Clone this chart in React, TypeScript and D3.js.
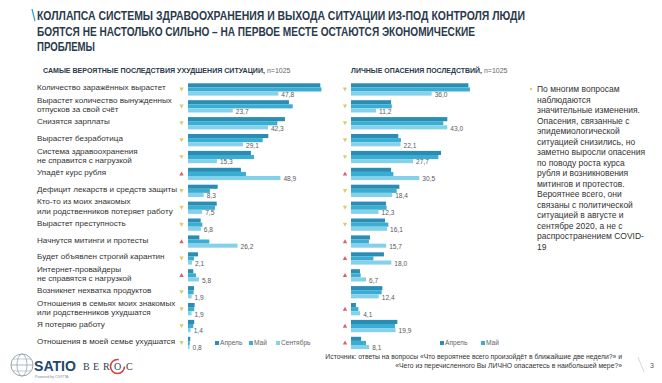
import React from "react";
import * as d3 from "d3";

const categories: string[][] = [
  ["Количество заражённых вырастет"],
  ["Вырастет количество вынужденных", "отпусков за свой счёт"],
  ["Снизятся зарплаты"],
  ["Вырастет безработица"],
  ["Система здравоохранения", "не справится с нагрузкой"],
  ["Упадёт курс рубля"],
  ["Дефицит лекарств и средств защиты"],
  ["Кто-то из моих знакомых", "или родственников потеряет работу"],
  ["Вырастет преступность"],
  ["Начнутся митинги и протесты"],
  ["Будет объявлен строгий карантин"],
  ["Интернет-провайдеры", "не справятся с нагрузкой"],
  ["Возникнет нехватка продуктов"],
  ["Отношения в семьях моих знакомых", "или родственников ухудшатся"],
  ["Я потеряю работу"],
  ["Отношения в моей семье ухудшатся"],
];

const leftApril = [70.0, 53.4, 51.3, 42.5, 33.3, 28.0, 15.7, 15.2, 6.7, 6.0, 5.3, 2.8, 3.2, 3.5, 3.3, 1.2];
const leftMay = [70.6, 55.4, 47.3, 39.5, 34.9, 30.7, 11.6, 14.3, 7.6, 11.3, 3.2, 4.2, 3.0, 3.3, 2.8, 0.9];
const leftSept = [47.8, 23.7, 42.3, 29.1, 15.3, 48.9, 8.3, 7.5, 6.8, 26.2, 2.1, 5.8, 1.9, 1.9, 1.4, 0.8];

const rightApril = [52.4, 17.9, 43.0, 21.1, 40.2, 17.9, 21.6, 15.6, 15.2, 8.5, 14.7, 4.0, 14.0, 2.2, 20.7, 4.5];
const rightMay = [53.1, 18.2, 41.2, 22.3, 39.0, 18.9, 20.4, 15.9, 16.7, 8.0, 10.0, 4.3, 13.7, 3.3, 19.6, 6.7];
const rightSept = [36.0, 11.2, 43.0, 22.1, 27.7, 30.5, 18.4, 12.3, 16.1, 15.7, 18.0, 6.7, 12.4, 4.1, 19.9, 8.1];

const leftTrend = ["d", "d", "d", "d", "d", "u", "d", "d", "d", "u", "d", "u", "d", "d", "d", "d"];
const rightTrend = ["d", "d", "d", "d", "d", "u", "d", "d", "d", "u", "u", "u", "", "u", "u", "u"];

const leftLegend = ["Апрель", "Май", "Сентябрь"];
const rightLegend = ["Апрель", "Май"];

const titleLines = [
  "КОЛЛАПСА СИСТЕМЫ ЗДРАВООХРАНЕНИЯ И ВЫХОДА СИТУАЦИИ ИЗ-ПОД КОНТРОЛЯ ЛЮДИ",
  "БОЯТСЯ НЕ НАСТОЛЬКО СИЛЬНО – НА ПЕРВОЕ МЕСТЕ ОСТАЮТСЯ ЭКОНОМИЧЕСКИЕ",
  "ПРОБЛЕМЫ",
];

const noteLines = [
  "По многим вопросам",
  "наблюдаются",
  "значительные изменения.",
  "Опасения, связанные с",
  "эпидемиологической",
  "ситуацией снизились, но",
  "заметно выросли опасения",
  "по поводу роста курса",
  "рубля и возникновения",
  "митингов и протестов.",
  "Вероятнее всего, они",
  "связаны с политической",
  "ситуацией в августе и",
  "сентябре 2020, а не с",
  "распространением COVID-",
  "19",
];

const footerLines = [
  "Источник: ответы на вопросы «Что вероятнее всего произойдёт в ближайшие две недели?» и",
  "«Чего из перечисленного Вы ЛИЧНО опасаетесь в наибольшей мере?»",
];

const COLORS = ["#2b8db3", "#3aaed2", "#86d1ea"];
const FONT = "'Liberation Sans', Arial, sans-serif";

const fmt = (v: number) => d3.format(".1f")(v).replace(".", ",");

function Tri({ x, y, up }: { x: number; y: number; up: boolean }) {
  const s = 2.2;
  const pts = up
    ? [[x, y - s], [x - s, y + s * 0.8], [x + s, y + s * 0.8]]
    : [[x - s, y - s * 0.8], [x + s, y - s * 0.8], [x, y + s]];
  return <polygon points={pts.map((p) => p.join(",")).join(" ")} fill={up ? "#d9606a" : "#d6cf6a"} />;
}

export default function App() {
  const n = categories.length;
  const rowTop = d3.scaleLinear().domain([0, n - 1]).range([83.3, 83.3 + (n - 1) * 16.9]);
  const barH = 4.1;

  const xL = d3.scaleLinear().domain([0, 50]).range([188, 188 + 50 * 1.89]);
  const xR = d3.scaleLinear().domain([0, 50]).range([351, 351 + 50 * 2.24]);

  const renderChart = (
    x: d3.ScaleLinear<number, number>,
    apr: number[],
    may: number[],
    sep: number[],
    trend: string[],
    markerX: number,
    key: string
  ) => (
    <g key={key}>
      {categories.map((_, i) => {
        const t = rowTop(i);
        const series = [apr[i], may[i], sep[i]];
        return (
          <g key={i}>
            {series.map((v, k) => (
              <rect key={k} x={x(0)} y={t + k * barH} width={x(v) - x(0)} height={barH} fill={COLORS[k]} />
            ))}
            <text x={x(sep[i]) + 3} y={t + 11.8} fontSize={6.6} fill="#5a5a5a" dominantBaseline="middle" fontFamily={FONT}>
              {fmt(sep[i])}
            </text>
            {trend[i] && <Tri x={markerX} y={t + 6} up={trend[i] === "u"} />}
          </g>
        );
      })}
    </g>
  );

  const legend = (items: string[], xs: number[], y: number, key: string) => (
    <g key={key}>
      {items.map((it, k) => (
        <g key={k}>
          <rect x={xs[k]} y={y - 2} width={4} height={4} fill={COLORS[k]} />
          <text x={xs[k] + 5} y={y} fontSize={6.6} fill="#666" dominantBaseline="middle" fontFamily={FONT}>
            {it}
          </text>
        </g>
      ))}
    </g>
  );

  const serif = "'Liberation Serif', serif";

  return (
    <svg width={662} height={383} style={{ position: "absolute", left: 0, top: 0, background: "#fff" }}>
      <rect x={0} y={0} width={662} height={383} fill="#fff" />
      {/* Title */}
      <line x1={32} y1={9} x2={35} y2={21} stroke="#3aa3c6" strokeWidth={1.3} />
      {titleLines.map((l, i) => (
        <text
          key={i}
          x={37}
          y={20 + i * 15.6}
          fontSize={12.5}
          fontWeight="bold"
          fill="#2a3a4b"
          fontFamily={FONT}
          textLength={i === 0 ? 488 : i === 1 ? 438 : 58}
          lengthAdjust="spacingAndGlyphs"
        >
          {l}
        </text>
      ))}

      {/* Subtitles */}
      <text x={43} y={73} fontSize={7} fontFamily={FONT} fill="#2a3a4b">
        <tspan fontWeight="bold" textLength={222} lengthAdjust="spacingAndGlyphs">САМЫЕ ВЕРОЯТНЫЕ ПОСЛЕДСТВИЯ УХУДШЕНИЯ СИТУАЦИИ,</tspan>
        <tspan fill="#666"> n=1025</tspan>
      </text>
      <text x={351} y={73} fontSize={7} fontFamily={FONT} fill="#2a3a4b">
        <tspan fontWeight="bold" textLength={131} lengthAdjust="spacingAndGlyphs">ЛИЧНЫЕ ОПАСЕНИЯ ПОСЛЕДСТВИЙ,</tspan>
        <tspan fill="#666"> n=1025</tspan>
      </text>

      {/* Category labels */}
      {categories.map((lines, i) => {
        const t = rowTop(i);
        return lines.length === 1 ? (
          <text key={i} x={37} y={t + 5} fontSize={8.1} fill="#333" dominantBaseline="middle" fontFamily={FONT}>
            {lines[0]}
          </text>
        ) : (
          <g key={i}>
            {lines.map((l, k) => (
              <text key={k} x={37} y={t + 0.6 + k * 9.3} fontSize={8.1} fill="#333" dominantBaseline="middle" fontFamily={FONT}>
                {l}
              </text>
            ))}
          </g>
        );
      })}

      {renderChart(xL, leftApril, leftMay, leftSept, leftTrend, 181.5, "L")}
      {renderChart(xR, rightApril, rightMay, rightSept, rightTrend, 345, "R")}

      {legend(leftLegend, [215, 249, 276], 343, "lg1")}
      {legend(rightLegend, [440, 481], 343, "lg2")}

      {/* Note */}
      <circle cx={531} cy={89} r={1.2} fill="#d6cf6a" />
      {noteLines.map((l, i) => (
        <text key={i} x={537} y={90 + i * 10.5} fontSize={8.5} fill="#333" dominantBaseline="middle" fontFamily={FONT}>
          {l}
        </text>
      ))}

      {/* Footer */}
      {footerLines.map((l, i) => (
        <text key={i} x={622} y={357 + i * 9.5} fontSize={6.8} fill="#333" textAnchor="end" dominantBaseline="middle" fontFamily={FONT}>
          {l}
        </text>
      ))}
      <line x1={638} y1={357} x2={644} y2={372} stroke="#ccc" strokeWidth={0.8} />
      <text x={650} y={366} fontSize={7} fill="#555" dominantBaseline="middle" fontFamily={FONT}>
        3
      </text>

      {/* Logos */}
      <g>
        <circle cx={22} cy={365} r={11} fill="none" stroke="#9aa4ad" strokeWidth={1} />
        <ellipse cx={22} cy={365} rx={5} ry={11} fill="none" stroke="#9aa4ad" strokeWidth={0.8} />
        <line x1={11} y1={365} x2={33} y2={365} stroke="#9aa4ad" strokeWidth={0.8} />
        <line x1={13} y1={359} x2={31} y2={359} stroke="#9aa4ad" strokeWidth={0.6} />
        <line x1={13} y1={371} x2={31} y2={371} stroke="#9aa4ad" strokeWidth={0.6} />
        <text x={34} y={371} fontSize={15} fontWeight="bold" fill="#24466e" fontFamily={FONT} textLength={42} lengthAdjust="spacingAndGlyphs">
          SATIO
        </text>
        <text x={35} y={378} fontSize={3.6} fill="#7a8a99" fontFamily={FONT}>
          Powered by CIVITTA
        </text>
        {["B", "E", "R"].map((c, k) => (
          <text key={c} x={83 + k * 10} y={370} fontSize={10} fill="#2c3d55" fontFamily={serif}>
            {c}
          </text>
        ))}
        <circle cx={117.5} cy={366.5} r={7} fill="none" stroke="#d0403a" strokeWidth={1.6} strokeDasharray="34 10" />
        <text x={117.5} y={370} fontSize={10} fill="#2c3d55" fontFamily={serif} textAnchor="middle">
          O
        </text>
        <text x={126} y={370} fontSize={10} fill="#2c3d55" fontFamily={serif}>
          C
        </text>
      </g>
    </svg>
  );
}
